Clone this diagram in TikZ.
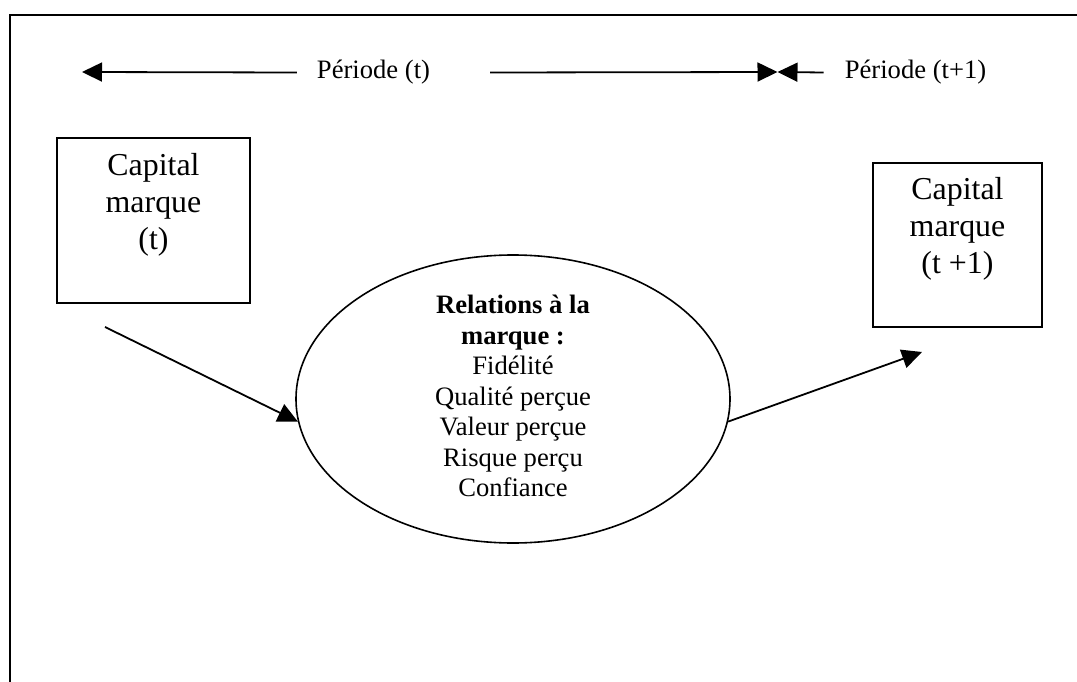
\documentclass[tikz,border=0pt]{standalone}
\usepackage{fontspec}
\setmainfont{Liberation Serif}
\usetikzlibrary{arrows.meta,shapes.geometric}
\begin{document}
\begin{tikzpicture}[x=1pt,y=-1pt,
  stroke/.style={line width=1.8pt},
  headtip/.style={-{Triangle[length=20pt,width=19pt]}},
  boxframe/.style={draw, line width=1.8pt, inner sep=0pt},
  boxtext/.style={align=center, inner sep=0pt, font=\fontsize{31.9}{37}\selectfont},
  periodtext/.style={inner sep=0pt, font=\fontsize{26.6}{30.5}\selectfont},
  ovaltext/.style={align=center, inner sep=0pt, font=\fontsize{26.6}{30.5}\selectfont},
  oval/.style={draw, ellipse, line width=1.6pt, inner sep=0pt}]
\useasboundingbox (0,0) rectangle (1077,682);
\fill[white] (0,0) rectangle (1077,682);

% frame
\draw[line width=2pt] (10,682) -- (10,15) -- (1077,15);

% period labels and timeline
\node[periodtext] (p1) at (373.5,72.5) {Période (t)};
\node[periodtext] (p2) at (915.5,72.5) {Période (t+1)};
\coordinate (tstart) at (82,72);
\coordinate (tmid) at (777.5,72);
\draw[stroke,headtip] ([xshift=-20pt]p1.west) -- (tstart);
\draw[stroke,headtip] ([xshift=60pt]p1.east) -- (tmid);
\draw[stroke,headtip] ([xshift=-21pt]p2.west) -- (tmid);

% brand equity boxes
\node[boxframe, minimum width=193pt, minimum height=165pt] (k1) at (153.5,220.5) {};
\node[boxtext] (k1t) at (153.5,205) {Capital\\marque\\(t)};
\node[boxframe, minimum width=169pt, minimum height=164pt] (k2) at (957.5,245) {};
\node[boxtext] (k2t) at (957.5,229) {Capital\\marque\\(t +1)};

% brand relationships
\node[oval, minimum width=434pt, minimum height=288pt] (rel) at (513,399) {};
\node[ovaltext] (relt) at (513,396) {\textbf{Relations à la}\\\textbf{marque :}\\Fidélité\\Qualité perçue\\Valeur perçue\\Risque perçu\\Confiance};

% flows
\coordinate (in) at (105,327);
\coordinate (out) at (922,352);
\draw[stroke,headtip] (in) -- (rel.186);
\draw[stroke,headtip] (rel.354) -- (out);
\end{tikzpicture}
\end{document}
